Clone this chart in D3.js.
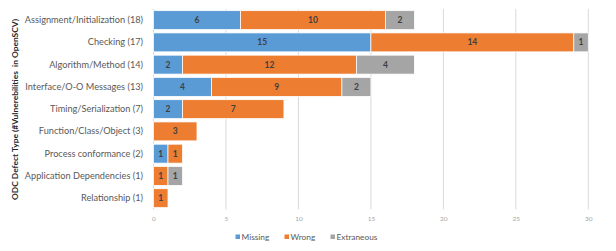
<!DOCTYPE html>
<html><head><meta charset="utf-8">
<script src="https://cdn.jsdelivr.net/npm/d3@7"></script>
<style>body{margin:0;background:#fff}svg{display:block}</style>
</head><body>
<svg id="c" width="616" height="251"></svg>
<script>
const categories = ["Assignment/Initialization (18)","Checking (17)","Algorithm/Method (14)","Interface/O-O Messages (13)","Timing/Serialization (7)","Function/Class/Object (3)","Process conformance (2)","Application Dependencies (1)","Relationship (1)"];
const missing    = [6, 15, 2, 4, 2, 0, 1, 0, 0];
const wrong      = [10, 14, 12, 9, 7, 3, 1, 1, 1];
const extraneous = [2, 1, 4, 2, 0, 0, 0, 1, 0];
const seriesNames = ["Missing","Wrong","Extraneous"];
const colors = ["#5B9BD5","#ED7D31","#A5A5A5"];
const xTicks = [0,5,10,15,20,25,30];
const yTitle = "ODC Defect Type (#Vulnerebilities  in OpenSCV)";

const svg = d3.select("#c");
const font = "Lato, 'Open Sans', sans-serif";
const pLeft = 153.5, pRight = 588.3, pTop = 9, pBottom = 209.3;
const x = d3.scaleLinear().domain([0,30]).range([pLeft,pRight]);
const y = d3.scaleBand().domain(categories).range([pTop,pBottom]).paddingInner(0.15).paddingOuter(0.075);

const rows = categories.map((c,i)=>({cat:c, Missing:missing[i], Wrong:wrong[i], Extraneous:extraneous[i]}));
const stack = d3.stack().keys(seriesNames)(rows);

svg.append("g").selectAll("line").data(xTicks).join("line")
  .attr("x1",d=>x(d)).attr("x2",d=>x(d)).attr("y1",pTop).attr("y2",pBottom)
  .attr("stroke","#d9d9d9").attr("stroke-width",1);

const g = svg.append("g");
stack.forEach((s,si)=>{
  const gs = g.append("g");
  gs.selectAll("rect").data(s.filter(d=>d[1]-d[0]>0)).join("rect")
    .attr("x",d=>x(d[0])).attr("width",d=>x(d[1])-x(d[0]))
    .attr("y",d=>y(d.data.cat)).attr("height",y.bandwidth())
    .attr("fill",colors[si]).attr("stroke","#fff").attr("stroke-width",0.75);
  gs.selectAll("text").data(s.filter(d=>d[1]-d[0]>0)).join("text")
    .attr("x",d=>(x(d[0])+x(d[1]))/2).attr("y",d=>y(d.data.cat)+y.bandwidth()/2)
    .attr("dy","0.35em").attr("text-anchor","middle")
    .attr("font-family",font).attr("font-size",8.5).attr("font-weight","bold").attr("fill","#404040")
    .text(d=>d[1]-d[0]);
});

const yAxis = d3.axisLeft(y).tickSize(0).tickPadding(0);
const ya = svg.append("g").attr("transform",`translate(${pLeft-10.5},0)`).call(yAxis);
ya.select(".domain").remove();
ya.selectAll("text").attr("font-family",font).attr("font-size",9.2).attr("fill","#595959");

const xAxis = d3.axisBottom(x).tickValues(xTicks).tickSize(0).tickPadding(0);
const xa = svg.append("g").attr("transform",`translate(0,${216})`).call(xAxis);
xa.select(".domain").remove();
xa.selectAll("text").attr("font-family",font).attr("font-size",6.5).attr("fill","#a6a6a6");

svg.append("text").attr("transform","translate(17.5,109.5) rotate(-90)")
  .attr("text-anchor","middle").attr("font-family",font).attr("font-size",7.6)
  .attr("font-weight","bold").attr("fill","#262626").attr("xml:space","preserve")
  .attr("textLength",181).attr("lengthAdjust","spacingAndGlyphs").text(yTitle);

const legX = [235.5, 284.5, 330.5];
const lg = svg.append("g");
seriesNames.forEach((n,i)=>{
  lg.append("rect").attr("x",legX[i]).attr("y",234.5).attr("width",4.5).attr("height",4.5).attr("fill",colors[i]);
  lg.append("text").attr("x",legX[i]+6).attr("y",236.8).attr("dy","0.35em")
    .attr("font-family",font).attr("font-size",8.3).attr("fill","#595959").text(n);
});
</script>
</body></html>
